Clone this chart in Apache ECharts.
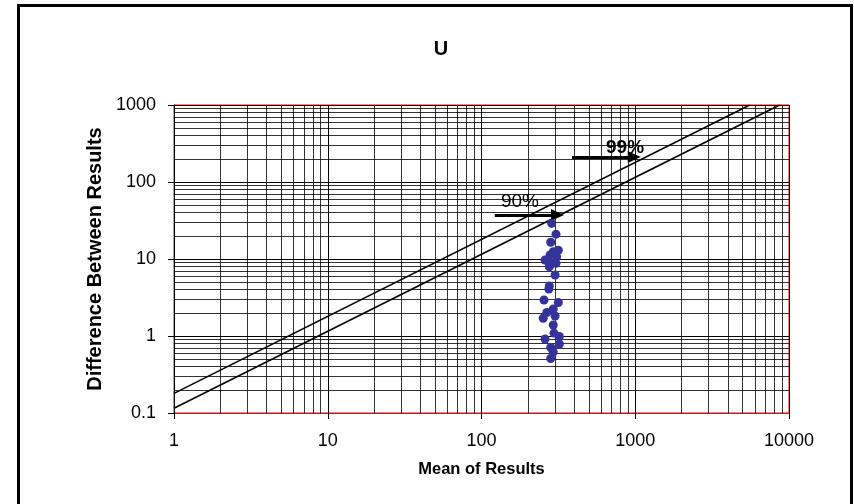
<!DOCTYPE html>
<html>
<head>
<meta charset="utf-8">
<script src="https://cdn.jsdelivr.net/npm/echarts@6/dist/echarts.min.js"></script>
<style>
  html, body { margin: 0; padding: 0; background: #fff; }
  #chart { width: 854px; height: 504px; }
</style>
</head>
<body>
<div id="chart"></div>
<script>
// Axis decades (log scale)
const xTicks = [1, 10, 100, 1000, 10000];
const yTicks = [0.1, 1, 10, 100, 1000];

// Paired measurements: mean of the two results and their difference
const meanValues = [286, 305, 282, 316, 293, 279, 308, 259, 272, 286, 305, 276, 301,
                    276, 274, 255, 316, 293, 266, 301, 252, 293, 296, 321, 259, 321,
                    282, 293, 282];
const diffValues = [29, 21, 16.5, 13, 12.4, 11.3, 10.7, 9.7, 9.2, 8.8, 8.8, 7.9, 6.2,
                    4.46, 4.08, 2.93, 2.72, 2.24, 2.02, 1.82, 1.70, 1.39, 1.09, 0.985,
                    0.915, 0.787, 0.709, 0.62, 0.51];

// Acceptance limit lines (difference proportional to mean)
const limit90 = [[1, 0.115], [8700, 1000]];
const limit99 = [[1, 0.18], [5560, 1000]];

// Pointer arrows and their captions
const arrow90 = [[122, 37.3], [312, 37.3]];
const arrow99 = [[388, 211], [985, 211]];
const caption90 = { text: '90%', at: [178, 55] };
const caption99 = { text: '99%', at: [858, 276] };

const points = meanValues.map((m, i) => [m, diffValues[i]]);

// Minor gridlines at 2..9 within each decade
function minorValues(ticks) {
  const out = [];
  for (let i = 0; i < ticks.length - 1; i++) {
    for (let m = 2; m <= 9; m++) out.push(+(m * ticks[i]).toPrecision(6));
  }
  return out;
}
const minorX = minorValues(xTicks);
const minorY = minorValues(yTicks);

const FONT = '"Liberation Sans", Arial, sans-serif';

const chart = echarts.init(document.getElementById('chart'), null, { renderer: 'canvas' });

chart.setOption({
  animation: false,
  backgroundColor: '#fff',
  title: {
    text: 'U',
    left: 436,
    top: 34,
    textAlign: 'center',
    textStyle: { fontFamily: FONT, fontSize: 20, fontWeight: 'bold', color: '#000' }
  },
  graphic: [{
    type: 'rect',
    shape: { x: 18.5, y: 5.5, width: 833, height: 520 },
    style: { fill: 'none', stroke: '#000', lineWidth: 3 },
    silent: true
  }],
  grid: {
    left: 174, right: 65, top: 105, bottom: 91,
    show: true, borderColor: '#ff0000', borderWidth: 1, backgroundColor: '#fff'
  },
  xAxis: {
    type: 'log', logBase: 10, min: xTicks[0], max: xTicks[xTicks.length - 1],
    name: 'Mean of Results', nameLocation: 'middle', nameGap: 48,
    nameTextStyle: { fontFamily: FONT, fontSize: 16.5, fontWeight: 'bold', color: '#000' },
    axisLine: { show: true, lineStyle: { color: '#ff0000', width: 1 } },
    axisTick: { show: true, length: 6, lineStyle: { color: '#000' } },
    axisLabel: { margin: 19, fontFamily: FONT, fontSize: 18, color: '#000', formatter: v => String(v) },
    splitLine: { show: true, lineStyle: { color: '#000', width: 1 } }
  },
  yAxis: {
    type: 'log', logBase: 10, min: yTicks[0], max: yTicks[yTicks.length - 1],
    name: 'Difference Between Results', nameLocation: 'middle', nameGap: 64,
    nameTextStyle: { fontFamily: FONT, fontSize: 20, fontWeight: 'bold', color: '#000' },
    axisLine: { show: true, lineStyle: { color: '#000', width: 1 } },
    axisTick: { show: true, length: 6, lineStyle: { color: '#000' } },
    axisLabel: { margin: 18, fontFamily: FONT, fontSize: 18, color: '#000', formatter: v => String(v) },
    splitLine: { show: true, lineStyle: { color: '#000', width: 1 } }
  },
  series: [
    {
      // minor gridlines
      type: 'line', data: [], silent: true, z: 1,
      markLine: {
        silent: true, symbol: 'none', animation: false,
        label: { show: false },
        lineStyle: { color: '#000', width: 1, type: 'solid', opacity: 0.8 },
        data: minorX.map(v => ({ xAxis: v })).concat(minorY.map(v => ({ yAxis: v })))
      }
    },
    {
      name: '90%', type: 'line', data: limit90, showSymbol: false, z: 3,
      lineStyle: { color: '#000', width: 1.6 }
    },
    {
      name: '99%', type: 'line', data: limit99, showSymbol: false, z: 3,
      lineStyle: { color: '#000', width: 1.6 }
    },
    {
      name: 'Results', type: 'scatter', data: points, z: 5,
      symbol: 'circle', symbolSize: 9,
      itemStyle: { color: '#333399', opacity: 1 }
    },
    {
      // arrows with captions
      type: 'line', data: [], silent: true, z: 6,
      markLine: {
        silent: true, animation: false,
        symbol: ['none', 'triangle'], symbolSize: [12, 13],
        label: { show: false },
        lineStyle: { color: '#000', width: 3, type: 'solid' },
        data: [
          [{ coord: arrow90[0] }, { coord: arrow90[1] }],
          [{ coord: arrow99[0] }, { coord: arrow99[1] }]
        ]
      },
      markPoint: {
        silent: true, animation: false,
        symbol: 'circle', symbolSize: 0,
        data: [
          { coord: caption90.at, value: caption90.text,
            label: { show: true, formatter: caption90.text, fontFamily: FONT, fontSize: 19, color: '#000' } },
          { coord: caption99.at, value: caption99.text,
            label: { show: true, formatter: caption99.text, fontFamily: FONT, fontSize: 19, fontWeight: 'bold', color: '#000' } }
        ]
      }
    }
  ]
});
</script>
</body>
</html>
